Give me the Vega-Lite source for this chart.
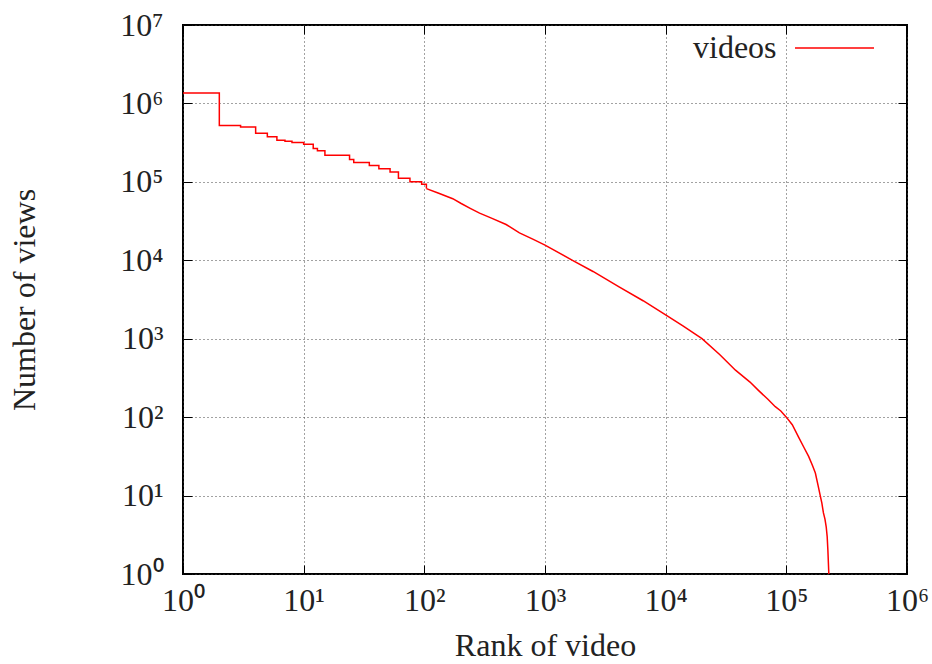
{
  "$schema": "https://vega.github.io/schema/vega-lite/v6.json",
  "autosize": {"type": "none"},
  "padding": {"left": 183, "top": 25, "right": 25, "bottom": 90},
  "width": 724,
  "height": 549,
  "config": {
    "view": {"stroke": "#000000", "strokeWidth": 2},
    "font": "Liberation Serif",
    "axis": {
      "labelFont": "Liberation Serif",
      "titleFont": "Liberation Serif",
      "labelFontSize": 32,
      "titleFontSize": 32,
      "titleFontWeight": "normal",
      "labelColor": "#222222",
      "titleColor": "#222222",
      "domain": false,
      "tickSize": -9,
      "tickColor": "#000000",
      "tickWidth": 1,
      "gridDash": [1, 3],
      "gridColor": "#444444",
      "gridOpacity": 1,
      "gridWidth": 1
    }
  },
  "data": {
    "values": [
      {"rank": 1, "views": 1360000, "seg": "head"},
      {"rank": 2, "views": 524000, "seg": "head"},
      {"rank": 3, "views": 500000, "seg": "head"},
      {"rank": 4, "views": 418000, "seg": "head"},
      {"rank": 5, "views": 375000, "seg": "head"},
      {"rank": 6, "views": 340000, "seg": "head"},
      {"rank": 7, "views": 330000, "seg": "head"},
      {"rank": 8, "views": 318000, "seg": "head"},
      {"rank": 10, "views": 302000, "seg": "head"},
      {"rank": 12, "views": 267000, "seg": "head"},
      {"rank": 13, "views": 250000, "seg": "head"},
      {"rank": 15, "views": 219000, "seg": "head"},
      {"rank": 24, "views": 193000, "seg": "head"},
      {"rank": 26, "views": 177000, "seg": "head"},
      {"rank": 35, "views": 162000, "seg": "head"},
      {"rank": 42, "views": 147000, "seg": "head"},
      {"rank": 52, "views": 134000, "seg": "head"},
      {"rank": 61, "views": 111000, "seg": "head"},
      {"rank": 76, "views": 100000, "seg": "head"},
      {"rank": 95, "views": 93000, "seg": "head"},
      {"rank": 104, "views": 82000, "seg": "head"},
      {"rank": 104, "views": 82000, "seg": "tail"},
      {"rank": 130, "views": 72000, "seg": "tail"},
      {"rank": 172, "views": 61000, "seg": "tail"},
      {"rank": 202, "views": 53000, "seg": "tail"},
      {"rank": 240, "views": 46000, "seg": "tail"},
      {"rank": 287, "views": 40000, "seg": "tail"},
      {"rank": 360, "views": 34500, "seg": "tail"},
      {"rank": 476, "views": 28600, "seg": "tail"},
      {"rank": 614, "views": 22400, "seg": "tail"},
      {"rank": 800, "views": 18500, "seg": "tail"},
      {"rank": 1000, "views": 15600, "seg": "tail"},
      {"rank": 1690, "views": 10000, "seg": "tail"},
      {"rank": 2500, "views": 7200, "seg": "tail"},
      {"rank": 4110, "views": 4580, "seg": "tail"},
      {"rank": 6500, "views": 3050, "seg": "tail"},
      {"rank": 10300, "views": 1950, "seg": "tail"},
      {"rank": 14000, "views": 1450, "seg": "tail"},
      {"rank": 20000, "views": 1000, "seg": "tail"},
      {"rank": 28000, "views": 630, "seg": "tail"},
      {"rank": 37900, "views": 397, "seg": "tail"},
      {"rank": 50000, "views": 280, "seg": "tail"},
      {"rank": 59000, "views": 218, "seg": "tail"},
      {"rank": 70000, "views": 170, "seg": "tail"},
      {"rank": 81000, "views": 136, "seg": "tail"},
      {"rank": 90000, "views": 120, "seg": "tail"},
      {"rank": 100000, "views": 100, "seg": "tail"},
      {"rank": 112000, "views": 80, "seg": "tail"},
      {"rank": 126000, "views": 56, "seg": "tail"},
      {"rank": 140000, "views": 41, "seg": "tail"},
      {"rank": 153000, "views": 31.6, "seg": "tail"},
      {"rank": 165000, "views": 24, "seg": "tail"},
      {"rank": 174000, "views": 19.4, "seg": "tail"},
      {"rank": 183000, "views": 13.6, "seg": "tail"},
      {"rank": 191000, "views": 10, "seg": "tail"},
      {"rank": 197000, "views": 8, "seg": "tail"},
      {"rank": 203000, "views": 6, "seg": "tail"},
      {"rank": 209000, "views": 5, "seg": "tail"},
      {"rank": 214000, "views": 4, "seg": "tail"},
      {"rank": 218000, "views": 3, "seg": "tail"},
      {"rank": 221000, "views": 2, "seg": "tail"},
      {"rank": 225000, "views": 1, "seg": "tail"}
    ]
  },
  "layer": [
    {
      "transform": [{"filter": "datum.seg === 'head'"}],
      "mark": {"type": "line", "interpolate": "step-after", "strokeWidth": 1.5, "clip": true},
      "encoding": {
        "x": {
          "field": "rank", "type": "quantitative",
          "scale": {"type": "log", "domain": [1, 1000000], "nice": false},
          "axis": {
            "title": "Rank of video",
            "values": [1, 10, 100, 1000, 10000, 100000, 1000000],
            "labelExpr": "'10' + ['⁰','¹','²','³','⁴','⁵','⁶','⁷'][round(log(datum.value)/LN10)]",
            "labelPadding": 20,
            "labelFlush": false,
            "titlePadding": 14,
            "grid": true
          }
        },
        "y": {
          "field": "views", "type": "quantitative",
          "scale": {"type": "log", "domain": [1, 10000000], "nice": false},
          "axis": {
            "title": "Number of views",
            "values": [1, 10, 100, 1000, 10000, 100000, 1000000, 10000000],
            "labelExpr": "'10' + ['⁰','¹','²','³','⁴','⁵','⁶','⁷'][round(log(datum.value)/LN10)]",
            "labelPadding": 29,
            "labelFlush": false,
            "titlePadding": 78,
            "grid": true
          }
        },
        "color": {
          "datum": "videos",
          "scale": {"range": ["#ff0000"]},
          "legend": {
            "title": "videos",
            "titleOrient": "left",
            "titleFont": "Liberation Serif",
            "titleFontSize": 32,
            "titleFontWeight": "normal",
            "titleColor": "#222222",
            "titlePadding": 17,
            "titleAnchor": "middle",
            "titleBaseline": "middle",
            "labelExpr": "''",
            "labelOffset": 0,
            "orient": "none",
            "legendX": 510,
            "legendY": 7,
            "symbolType": "stroke",
            "symbolSize": 6241,
            "symbolStrokeWidth": 1.5,
            "clipHeight": 32,
            "padding": 0
          }
        }
      }
    },
    {
      "transform": [{"filter": "datum.seg === 'tail'"}],
      "mark": {"type": "line", "strokeWidth": 1.5, "clip": true},
      "encoding": {
        "x": {"field": "rank", "type": "quantitative", "axis": null},
        "y": {"field": "views", "type": "quantitative", "axis": null},
        "color": {"datum": "videos"}
      }
    },
    {
      "transform": [{"filter": "datum.seg === 'head'"}],
      "mark": {"type": "point", "opacity": 0},
      "encoding": {
        "x": {
          "field": "rank", "type": "quantitative",
          "axis": {"orient": "top", "title": null, "labels": false, "grid": false, "values": [1, 10, 100, 1000, 10000, 100000, 1000000]}
        },
        "y": {
          "field": "views", "type": "quantitative",
          "axis": {"orient": "right", "title": null, "labels": false, "grid": false, "values": [1, 10, 100, 1000, 10000, 100000, 1000000, 10000000]}
        }
      }
    }
  ],
  "resolve": {"axis": {"x": "independent", "y": "independent"}}
}
